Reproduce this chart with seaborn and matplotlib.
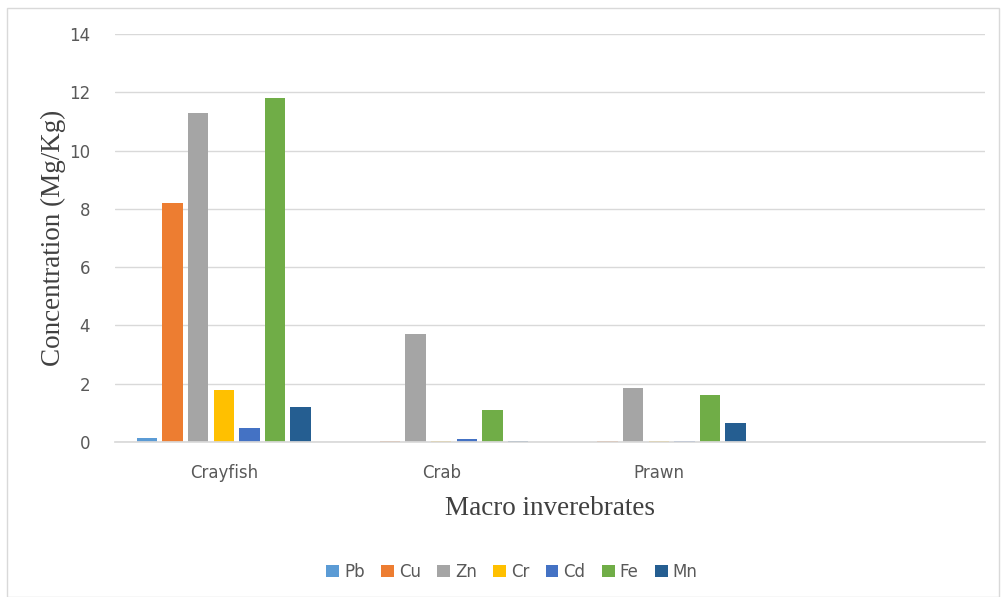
import matplotlib
matplotlib.use("Agg")
import matplotlib.pyplot as plt
import seaborn as sns
import pandas as pd
from matplotlib.patches import Rectangle

categories = ["Crayfish", "Crab", "Prawn"]
metals = ["Pb", "Cu", "Zn", "Cr", "Cd", "Fe", "Mn"]
pb = [0.13, 0.0, 0.0]
cu = [8.2, 0.05, 0.03]
zn = [11.3, 3.7, 1.84]
cr = [1.8, 0.04, 0.02]
cd = [0.48, 0.1, 0.04]
fe = [11.8, 1.1, 1.61]
mn = [1.2, 0.03, 0.66]
colors = ["#5B9BD5", "#ED7D31", "#A5A5A5", "#FFC000", "#4472C4", "#70AD47", "#255E91"]

series = [pb, cu, zn, cr, cd, fe, mn]
rows = []
for m, vals in zip(metals, series):
    for c, v in zip(categories, vals):
        rows.append({"Category": c, "Metal": m, "Value": v})
df = pd.DataFrame(rows)

sns.set_theme(style="white")
plt.rcParams["font.family"] = ["DejaVu Sans"]
txt = "#595959"

fig = plt.figure(figsize=(10.01, 5.97), dpi=100)
ax = fig.add_axes([115/1001, 1-442/597, 870/1001, 408/597])

sns.barplot(data=df, x="Category", y="Value", hue="Metal", order=categories,
            hue_order=metals, palette=colors, width=0.824, gap=0.2,
            saturation=1, ax=ax, legend=True, errorbar=None, linewidth=0)

ax.set_xlim(-0.5, 3.5)
ax.set_ylim(0, 14)
ax.set_yticks(range(0, 15, 2))
ax.set_xticks(range(3))
ax.set_xticklabels(categories)
ax.yaxis.grid(True, color="#D9D9D9", linewidth=1)
ax.set_axisbelow(True)
for s in ["top", "right", "left"]:
    ax.spines[s].set_visible(False)
ax.spines["bottom"].set_color("#D9D9D9")
ax.tick_params(axis="both", length=0, labelsize=12, labelcolor=txt)
ax.tick_params(axis="y", pad=18)
ax.tick_params(axis="x", pad=16)

ax.set_ylabel("Concentration (Mg/Kg)", family="Liberation Serif", fontsize=19.5,
              color="#404040", labelpad=2)
ax.set_xlabel("Macro inverebrates", family="Liberation Serif", fontsize=19.5,
              color="#404040", labelpad=10)

handles, labels = ax.get_legend_handles_labels()
ax.get_legend().remove()
fig.legend(handles, labels, loc="center", bbox_to_anchor=(512/1001, 1-572/597),
           ncol=7, frameon=False, fontsize=12, labelcolor=txt,
           handlelength=0.75, handleheight=0.75, handletextpad=0.3, columnspacing=1.0)

fig.patches.append(Rectangle((7/1001, 0.0), 992/1001, 1-8/597, transform=fig.transFigure,
                             fill=False, edgecolor="#D9D9D9", linewidth=1))

fig.savefig("out.png", dpi=100, facecolor="white")
